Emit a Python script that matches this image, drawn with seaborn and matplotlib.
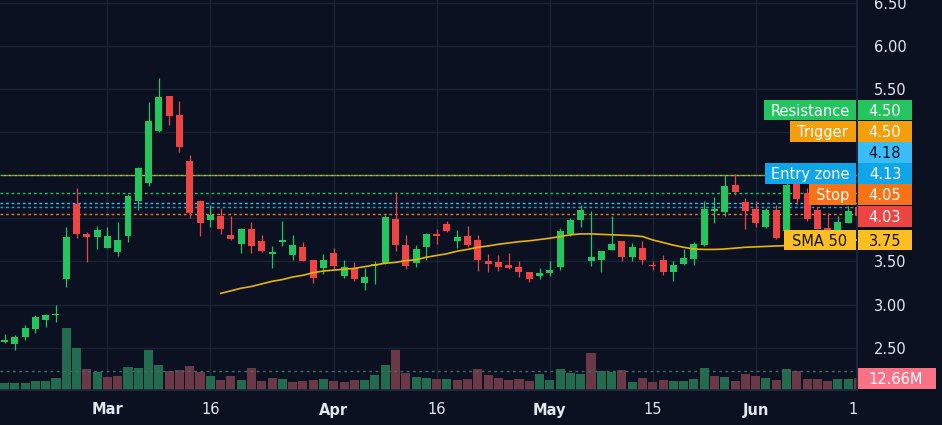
import numpy as np
import pandas as pd
import seaborn as sns
import matplotlib.pyplot as plt
import matplotlib.transforms as mtransforms
from matplotlib.patches import Rectangle

# ---- data (one entry per trading bar) ----
opens = [2.57, 2.54, 2.62, 2.72, 2.82, 2.88, 3.30, 4.17, 3.82, 3.78,
         3.66, 3.61, 3.80, 4.20, 4.41, 5.01, 5.42, 5.20, 4.67, 4.20,
         3.98, 4.03, 3.81, 3.70, 3.88, 3.74, 3.59, 3.73, 3.58, 3.67,
         3.52, 3.42, 3.60, 3.33, 3.42, 3.25, 3.45, 3.48, 3.99, 3.69,
         3.48, 3.67, 3.82, 3.94, 3.74, 3.80, 3.75, 3.51, 3.49, 3.46,
         3.44, 3.38, 3.33, 3.37, 3.44, 3.82, 3.98, 3.51, 3.52, 3.63,
         3.74, 3.55, 3.66, 3.46, 3.52, 3.38, 3.47, 3.53, 3.69, 4.09,
         4.07, 4.39, 4.19, 4.11, 3.90, 4.10, 3.85, 4.40, 4.29, 4.10,
         3.89, 3.85, 3.95, 4.13]
highs = [2.66, 2.65, 2.76, 2.88, 2.89, 3.00, 3.90, 4.35, 3.84, 3.91,
         3.90, 3.96, 4.28, 4.60, 5.35, 5.63, 5.42, 5.36, 4.74, 4.21,
         4.16, 4.12, 4.03, 3.89, 3.96, 3.81, 3.68, 3.97, 3.81, 3.73,
         3.52, 3.59, 3.66, 3.52, 3.49, 3.42, 3.51, 4.04, 4.31, 3.81,
         3.69, 3.83, 3.88, 3.97, 3.87, 3.91, 3.81, 3.59, 3.58, 3.60,
         3.51, 3.38, 3.42, 3.51, 3.89, 4.00, 4.16, 4.09, 3.62, 4.03,
         3.74, 3.71, 3.74, 3.51, 3.58, 3.51, 3.64, 3.73, 4.20, 4.25,
         4.50, 4.52, 4.24, 4.20, 4.12, 4.16, 4.45, 4.45, 4.35, 4.13,
         4.06, 4.03, 4.14, 4.15]
lows = [2.55, 2.47, 2.59, 2.67, 2.74, 2.80, 3.20, 3.77, 3.49, 3.64,
        3.66, 3.56, 3.73, 4.10, 4.38, 5.00, 5.08, 4.77, 4.00, 3.80,
        3.90, 3.82, 3.75, 3.60, 3.60, 3.61, 3.42, 3.68, 3.52, 3.51,
        3.25, 3.35, 3.40, 3.31, 3.27, 3.17, 3.24, 3.47, 3.62, 3.41,
        3.44, 3.52, 3.70, 3.84, 3.66, 3.67, 3.39, 3.38, 3.39, 3.41,
        3.32, 3.26, 3.30, 3.33, 3.40, 3.80, 3.90, 3.45, 3.38, 3.63,
        3.51, 3.51, 3.47, 3.40, 3.34, 3.27, 3.46, 3.46, 3.68, 3.95,
        4.03, 4.27, 3.88, 3.90, 3.89, 3.76, 3.83, 4.17, 3.97, 3.88,
        3.85, 3.84, 3.95, 4.00]
closes = [2.58, 2.62, 2.73, 2.86, 2.88, 2.89, 3.78, 3.82, 3.78, 3.87,
          3.80, 3.75, 4.26, 4.58, 5.13, 5.41, 5.19, 4.83, 4.06, 3.95,
          4.04, 3.88, 3.76, 3.88, 3.68, 3.62, 3.61, 3.75, 3.69, 3.51,
          3.31, 3.52, 3.45, 3.44, 3.30, 3.32, 3.47, 4.02, 3.69, 3.45,
          3.65, 3.82, 3.80, 3.85, 3.78, 3.69, 3.52, 3.47, 3.44, 3.42,
          3.38, 3.30, 3.37, 3.40, 3.85, 3.98, 4.10, 3.55, 3.62, 3.70,
          3.55, 3.67, 3.52, 3.45, 3.38, 3.46, 3.54, 3.70, 4.11, 4.10,
          4.38, 4.31, 4.09, 3.95, 4.10, 3.77, 4.39, 4.23, 3.99, 3.88,
          3.86, 3.96, 4.09, 4.03]
volume_m = [4.7, 4.7, 4.7, 6.0, 6.0, 8.0, 41.3, 28.0, 14.0, 12.0,
            8.7, 9.3, 15.3, 14.7, 26.6, 16.7, 12.7, 13.3, 16.0, 12.0,
            9.3, 6.7, 9.3, 6.7, 14.7, 6.0, 8.0, 7.3, 5.3, 6.0,
            6.7, 7.3, 6.0, 5.3, 6.7, 6.7, 10.0, 16.7, 26.6, 11.3,
            8.7, 8.0, 7.3, 7.3, 6.7, 7.3, 14.0, 10.0, 8.0, 6.7,
            7.3, 6.0, 10.7, 6.7, 14.0, 11.3, 10.7, 24.6, 12.7, 12.0,
            13.3, 5.3, 8.0, 5.3, 6.7, 6.0, 6.0, 7.3, 14.7, 9.3,
            8.7, 6.0, 10.7, 9.3, 8.0, 6.7, 14.0, 12.7, 7.3, 7.3,
            6.0, 7.3, 7.3, 8.0]
# SMA 50 as drawn, starting at bar 21
sma_start = 21
sma50 = [3.13, 3.16, 3.19, 3.21, 3.24, 3.27, 3.29, 3.32, 3.34, 3.37,
         3.39, 3.40, 3.41, 3.42, 3.44, 3.46, 3.48, 3.49, 3.51, 3.52,
         3.55, 3.57, 3.59, 3.62, 3.64, 3.665, 3.68, 3.70, 3.715, 3.73,
         3.74, 3.755, 3.77, 3.79, 3.81, 3.82, 3.82, 3.815, 3.81, 3.805,
         3.80, 3.79, 3.75, 3.72, 3.69, 3.665, 3.645, 3.64, 3.64, 3.645,
         3.655, 3.665, 3.67, 3.675, 3.68, 3.685, 3.69, 3.70, 3.71, 3.72,
         3.73, 3.745, 3.75]
volume_ref = 12.66

tick_pos = [10, 20, 32, 42, 53, 63, 73, 82.5]
tick_labels = ["Mar", "16", "Apr", "16", "May", "15", "Jun", "1"]
months = ["Mar", "Apr", "May", "Jun"]
price_ticks = [2.5, 3.0, 3.5, 4.0, 4.5, 5.0, 5.5, 6.0, 6.5]
hidden_ticks = [4.0, 4.5, 5.0]  # sit under the level tags

line_values = [4.50, 4.50, 4.30, 4.18, 4.13, 4.05]
line_colors = ["#22c55e", "#f59e0b", "#22c55e", "#38bdf8", "#0ea5e9", "#f97316"]

tag_names = ["Resistance", "Trigger", "", "Entry zone", "Stop", "", "SMA 50"]
tag_values = [4.50, 4.50, 4.18, 4.13, 4.05, closes[-1], sma50[-1]]
tag_colors = ["#22c55e", "#f59e0b", "#38bdf8", "#0ea5e9", "#f97316", "#ef4444", "#fbbf24"]
tag_text = ["white", "white", "#0b1120", "white", "white", "white", "#111111"]

BG = "#0b1120"
GRID = "#1b2435"
TXT = "#e2e8f0"
UP, DOWN = "#22c55e", "#ef4444"
VUP, VDOWN = "#236b4e", "#6b3848"

df = pd.DataFrame({"open": opens, "high": highs, "low": lows, "close": closes, "vol": volume_m})
df["i"] = np.arange(len(df))
df["up"] = df["close"] >= df["open"]
df["vup"] = df["close"].diff().fillna(1) > 0

sns.set_theme(style="dark", rc={"axes.facecolor": BG, "figure.facecolor": BG,
                                "axes.edgecolor": GRID, "text.color": TXT,
                                "xtick.color": TXT, "ytick.color": TXT})
plt.rcParams['font.family'] = ['DejaVu Sans']

W, H = 942, 425
fig = plt.figure(figsize=(W / 100, H / 100), dpi=100)
ax = fig.add_axes([0, 1 - 390 / H, 857 / W, 390 / H])
vax = ax.twinx()
ax.set_zorder(2)
ax.patch.set_visible(False)
vax.set_zorder(1)
vax.patch.set_facecolor(BG)

ax.set_xlim(-0.44, 82.85)
ax.set_ylim(2.009, 6.534)

# grid (drawn in the volume pane so it sits behind the volume bars)
price_y = mtransforms.blended_transform_factory(vax.transAxes, ax.transData)
for p in price_ticks:
    vax.plot([0, 1], [p, p], transform=price_y, color=GRID, lw=1, zorder=0)
for t in tick_pos[:-1]:
    vax.axvline(t, color=GRID, lw=1, zorder=0)

# volume
vax.bar(df["i"], df["vol"], width=0.88, color=np.where(df["vup"], VUP, VDOWN),
        linewidth=0, edgecolor="none", zorder=2)
vax.axhline(volume_ref, color="#3f6e60", lw=1, ls=(0, (2, 2.5)), zorder=3)
vax.set_ylim(0, 260)
vax.set_yticks([])
for s in vax.spines.values():
    s.set_visible(False)

# level lines
for k, (v, c) in enumerate(zip(line_values, line_colors)):
    off = 2 if k == 1 else 0
    ax.axhline(v, color=c, lw=1, ls=(off, (2, 2)), zorder=3)

# candles
cols = np.where(df["up"], UP, DOWN)
ax.vlines(df["i"], df["low"], df["high"], colors=cols, lw=0.9, zorder=4)
body_lo = np.minimum(df["open"], df["close"])
body_h = np.maximum(np.abs(df["close"] - df["open"]), 0.014)
ax.bar(df["i"], body_h, bottom=body_lo, width=0.68, color=cols,
       linewidth=0, edgecolor="none", zorder=5)

# SMA 50
sma_x = np.arange(sma_start, sma_start + len(sma50))
sns.lineplot(x=sma_x, y=sma50, ax=ax, color="#eab308", lw=1.2, zorder=6)

ax.set_xlim(-0.44, 82.85)
ax.set_ylim(2.009, 6.534)
ax.yaxis.tick_right()
ax.set_yticks(price_ticks)
ax.set_yticklabels(["" if p in hidden_ticks else f"{p:.2f}" for p in price_ticks], fontsize=10.5)
ax.tick_params(axis="y", length=0, pad=12)
ax.set_xticks(tick_pos)
ax.set_xticklabels(tick_labels, fontsize=10.5)
for lab in ax.get_xticklabels():
    if lab.get_text() in months:
        lab.set_fontweight("bold")
ax.tick_params(axis="x", length=0, pad=9)
ax.grid(False)
vax.grid(False)
for name, s in ax.spines.items():
    s.set_visible(name in ("bottom", "right"))
    s.set_color("#1e2a3e")
    s.set_linewidth(1.2)


# right-side tags
def px_rect(x0, y0, x1, y1, color):
    fig.add_artist(Rectangle((x0 / W, 1 - y1 / H), (x1 - x0) / W, (y1 - y0) / H,
                             transform=fig.transFigure, color=color, lw=0, zorder=5))


tag_top = [99.5, 121, 142, 163, 184, 206, 230]
name_left = [764, 790, None, 765, 809, None, 784]
for k in range(len(tag_values)):
    y0, y1 = tag_top[k], tag_top[k] + 20.5
    yc = 1 - (y0 + y1) / 2 / H
    px_rect(857.5, y0, 912, y1, tag_colors[k])
    fig.text(885 / W, yc, f"{tag_values[k]:.2f}", color=tag_text[k], fontsize=10.5,
             ha="center", va="center_baseline", zorder=6)
    if name_left[k] is not None:
        px_rect(name_left[k], y0, 855.5, y1, tag_colors[k])
        fig.text((name_left[k] + 855.5) / 2 / W, yc, tag_names[k], color=tag_text[k],
                 fontsize=10.5, ha="center", va="center_baseline", zorder=6)

px_rect(857.5, 368, 936, 389, "#fb7185")
fig.text(896 / W, 1 - 378.5 / H, f"{volume_ref:.2f}M", color="white", fontsize=10.5,
         ha="center", va="center_baseline", zorder=6)

fig.savefig("out.png", dpi=100, facecolor=BG)
